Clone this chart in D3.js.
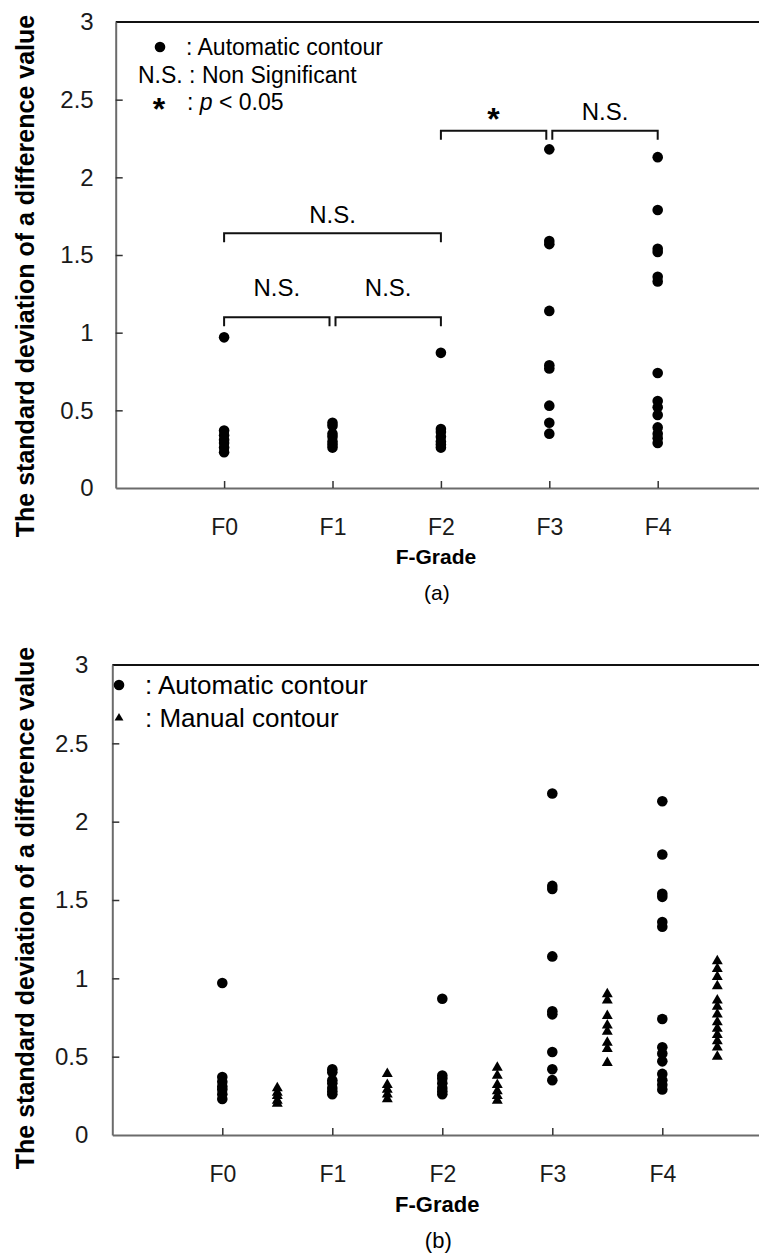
<!DOCTYPE html>
<html>
<head>
<meta charset="utf-8">
<script src="https://cdn.jsdelivr.net/npm/d3@7"></script>
<style>
  body { margin: 0; background: #fff; }
  svg { display: block; font-family: "Liberation Sans", Arial, sans-serif; }
  .domain { stroke: #6b6b6b; stroke-width: 2; }
  .tick line { stroke: #333; stroke-width: 1.5; }
  .tick text { fill: #1a1a1a; }
</style>
</head>
<body>
<svg id="chart" width="759" height="1258"></svg>
<script>
const grades = ["F0", "F1", "F2", "F3", "F4"];
const yTicks = [0, 0.5, 1, 1.5, 2, 2.5, 3];

// automatic contour, one list per grade (same in both panels)
const autoValues = [
    [0.97, 0.37, 0.34, 0.31, 0.29, 0.26, 0.23],
    [0.42, 0.40, 0.35, 0.33, 0.30, 0.28, 0.26],
    [0.87, 0.38, 0.36, 0.33, 0.30, 0.28, 0.26],
    [2.18, 1.59, 1.57, 1.14, 0.79, 0.77, 0.53, 0.42, 0.35],
    [2.13, 1.79, 1.54, 1.52, 1.36, 1.33, 0.74, 0.56, 0.52, 0.47, 0.39, 0.35, 0.32, 0.29]
];

// manual contour, panel (b) only
const manualValues = [
    [0.30, 0.27, 0.25, 0.22, 0.20],
    [0.39, 0.32, 0.29, 0.26, 0.23],
    [0.43, 0.38, 0.32, 0.28, 0.25, 0.22],
    [0.90, 0.86, 0.76, 0.70, 0.66, 0.59, 0.55, 0.46],
    [1.11, 1.06, 1.01, 0.95, 0.86, 0.82, 0.77, 0.72, 0.68, 0.64, 0.60, 0.56, 0.50]
];

// significance brackets of panel (a): grade index from/to, bracket level, label level
const bracketFrom = [0, 1, 0, 2, 3];
const bracketTo = [1, 2, 2, 3, 4];
const bracketLevel = [1.10, 1.10, 1.64, 2.30, 2.30];
const bracketLabelAt = [1.29, 1.29, 1.76, 2.42, 2.42];
const bracketLabel = ["N.S.", "N.S.", "N.S.", "*", "N.S."];

const svg = d3.select("#chart");

function drawPanel(cfg) {
    const g = svg.append("g").classed("panel", true);

    const x = d3.scaleLinear().domain([0, 6]).range([cfg.left, cfg.left + 6 * cfg.step]);
    const y = d3.scaleLinear().domain([0, 3]).range([cfg.bottom, cfg.top]);

    // frame top line (right side runs off the picture)
    g.append("line")
        .attr("x1", x(0)).attr("x2", x(6))
        .attr("y1", y(3)).attr("y2", y(3))
        .attr("stroke", "#111").attr("stroke-width", 2);

    g.append("g")
        .attr("transform", `translate(${x(0)},0)`)
        .call(d3.axisLeft(y).tickValues(yTicks).tickFormat(d3.format("~g"))
            .tickSize(-7).tickSizeOuter(0).tickPadding(cfg.yPad))
        .call(a => a.selectAll("text").style("font-size", cfg.yTickFont + "px"))
        .call(a => a.selectAll(".tick").filter(d => d === 0 || d === 3).select("line").remove());

    g.append("g")
        .attr("transform", `translate(0,${y(0)})`)
        .call(d3.axisBottom(x).tickValues([1, 2, 3, 4, 5]).tickFormat(d => grades[d - 1])
            .tickSize(-7).tickSizeOuter(0).tickPadding(cfg.xPad))
        .call(a => a.selectAll("text").style("font-size", cfg.xTickFont + "px"));

    // axis titles
    g.append("text")
        .attr("transform", `translate(${cfg.titleX},${cfg.titleY}) rotate(-90)`)
        .attr("text-anchor", "middle")
        .style("font-size", "25px").style("font-weight", "bold")
        .text("The standard deviation of a difference value");

    g.append("text")
        .attr("x", x(3) - 5).attr("y", y(0) + cfg.gradeDy)
        .attr("dy", "0.35em").attr("text-anchor", "middle")
        .style("font-size", cfg.gradeFont + "px").style("font-weight", "bold")
        .text("F-Grade");

    g.append("text")
        .attr("x", x(3) - 4).attr("y", y(0) + cfg.captionDy)
        .attr("dy", "0.35em").attr("text-anchor", "middle")
        .style("font-size", cfg.gradeFont + "px")
        .text(cfg.caption);

    // automatic contour dots
    autoValues.forEach((vals, i) => {
        g.selectAll(null)
            .data(vals)
            .enter()
            .append("circle")
            .attr("cx", x(i + 1))
            .attr("cy", d => y(d))
            .attr("r", 5.3)
            .attr("fill", "#000");
    });

    return { g, x, y };
}

// ---------- panel (a)
const pa = drawPanel({ left: 115.7, step: 108.4, top: 22, bottom: 488, yPad: 22, xPad: 31,
    yTickFont: 24, xTickFont: 23, gradeFont: 21, gradeDy: 69, captionDy: 105, caption: "(a)",
    titleX: 34, titleY: 276 });

const bx = (i, side) => {
    // shrink a bracket end a bit when it touches a neighbour on the same level
    const v = side === "from" ? bracketFrom[i] : bracketTo[i];
    const shared = bracketLevel.some((l, j) => j !== i && l === bracketLevel[i] &&
        (side === "from" ? bracketTo[j] === v : bracketFrom[j] === v));
    return pa.x(v + 1) + (shared ? (side === "from" ? 3 : -3) : 0);
};

bracketLabel.forEach((lab, i) => {
    const x1 = bx(i, "from"), x2 = bx(i, "to"), yl = pa.y(bracketLevel[i]);
    pa.g.append("path")
        .attr("d", `M${x1},${yl + 9}V${yl}H${x2}V${yl + 9}`)
        .attr("fill", "none").attr("stroke", "#111").attr("stroke-width", 2);

    const t = pa.g.append("text")
        .attr("x", (x1 + x2) / 2)
        .attr("text-anchor", "middle")
        .text(lab);
    if (lab === "*") {
        t.attr("y", pa.y(bracketLabelAt[i]) + 18).style("font-size", "32px").style("font-weight", "bold");
    } else {
        t.attr("y", pa.y(bracketLabelAt[i])).attr("dy", "0.35em").style("font-size", "24px");
    }
});

// legend (a)
const la = pa.g.append("g").classed("legend", true);
la.append("circle").attr("cx", 160).attr("cy", 47).attr("r", 5.3).attr("fill", "#000");
la.append("text").attr("x", 186).attr("y", 47).attr("dy", "0.35em").style("font-size", "23px")
    .text(": Automatic contour");
la.append("text").attr("x", 138).attr("y", 75).attr("dy", "0.35em").style("font-size", "23px")
    .text("N.S. : Non Significant");
la.append("text").attr("x", 159).attr("y", 120).attr("text-anchor", "middle")
    .style("font-size", "32px").style("font-weight", "bold").text("*");
const pt = la.append("text").attr("x", 187).attr("y", 102).attr("dy", "0.35em").style("font-size", "23px");
pt.append("tspan").text(": ");
pt.append("tspan").style("font-style", "italic").text("p");
pt.append("tspan").text(" < 0.05");

// ---------- panel (b)
const pb = drawPanel({ left: 112.3, step: 110, top: 665, bottom: 1135, yPad: 24, xPad: 31,
    yTickFont: 24, xTickFont: 23, gradeFont: 22, gradeDy: 69, captionDy: 105, caption: "(b)",
    titleX: 34, titleY: 908 });

manualValues.forEach((vals, i) => {
    pb.g.selectAll(null)
        .data(vals)
        .enter()
        .append("path")
        .attr("d", d3.symbol(d3.symbolTriangle, 52))
        .attr("transform", d => `translate(${pb.x(i + 1.5)},${pb.y(d)})`)
        .attr("fill", "#000");
});

// legend (b)
const lb = pb.g.append("g").classed("legend", true);
lb.append("circle").attr("cx", 119).attr("cy", 685).attr("r", 5.3).attr("fill", "#000");
lb.append("text").attr("x", 145).attr("y", 685).attr("dy", "0.35em").style("font-size", "26px")
    .text(": Automatic contour");
lb.append("path").attr("d", d3.symbol(d3.symbolTriangle, 34))
    .attr("transform", "translate(119,718)").attr("fill", "#000");
lb.append("text").attr("x", 145).attr("y", 718).attr("dy", "0.35em").style("font-size", "26px")
    .text(": Manual contour");
</script>
</body>
</html>
